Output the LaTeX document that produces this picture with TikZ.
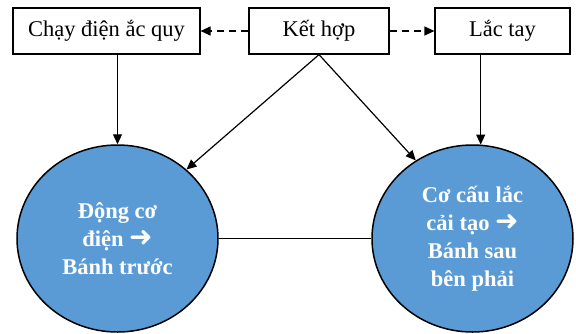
\documentclass[tikz,border=0pt]{standalone}
\usepackage{fontspec}
\setmainfont{Liberation Serif}
\newfontfamily\arrowfont{DejaVu Sans}
\usetikzlibrary{positioning,shapes.geometric,arrows.meta}
\definecolor{wheelblue}{HTML}{5B9BD5}

\begin{document}
\begin{tikzpicture}[x=1pt, y=-1pt, font=\fontsize{22.5}{28}\selectfont,
    box/.style={draw, line width=1.2pt, minimum height=46pt, inner sep=0pt},
    wheel/.style={ellipse, draw, line width=1.5pt, fill=wheelblue, text=white, align=center,
      font=\fontsize{22.5}{28}\selectfont\bfseries, minimum width=201pt, minimum height=187pt, inner sep=0pt},
    link/.style={-{Triangle[length=10pt,width=9pt]}, line width=1.2pt},
    alt/.style={link, dash pattern=on 7pt off 5pt}]
  \useasboundingbox (0,0) rectangle (576,333);
  \node[wheel] (dongco) at (117.5,238.5) {Động cơ\\điện {\arrowfont\fontsize{28}{28}\selectfont ➜}\\Bánh trước};
  \node[wheel] (cocau) at (472.5,238.5) {Cơ cấu lắc\\cải tạo {\arrowfont\fontsize{28}{28}\selectfont ➜}\\Bánh sau\\bên phải};
  \node[box, minimum width=187pt] (chaydien) at (106.5,31) {Chạy điện ắc quy};
  \node[box, minimum width=140pt] (kethop) at (319,31) {Kết hợp};
  \node[box, minimum width=135pt] (lactay) at (502.5,31) {Lắc tay};
  \draw[alt] (kethop) -- (chaydien);
  \draw[alt] (kethop) -- (lactay);
  \draw[link] (chaydien.south -| dongco.north) -- (dongco.north);
  \draw[link] (lactay.south -| cocau.85) -- (cocau.85);
  \draw[link] (kethop.south) -- (dongco.45);
  \draw[link] (kethop.south) -- (cocau.126);
  \draw[line width=1.2pt] (dongco) -- (cocau);
\end{tikzpicture}
\end{document}
